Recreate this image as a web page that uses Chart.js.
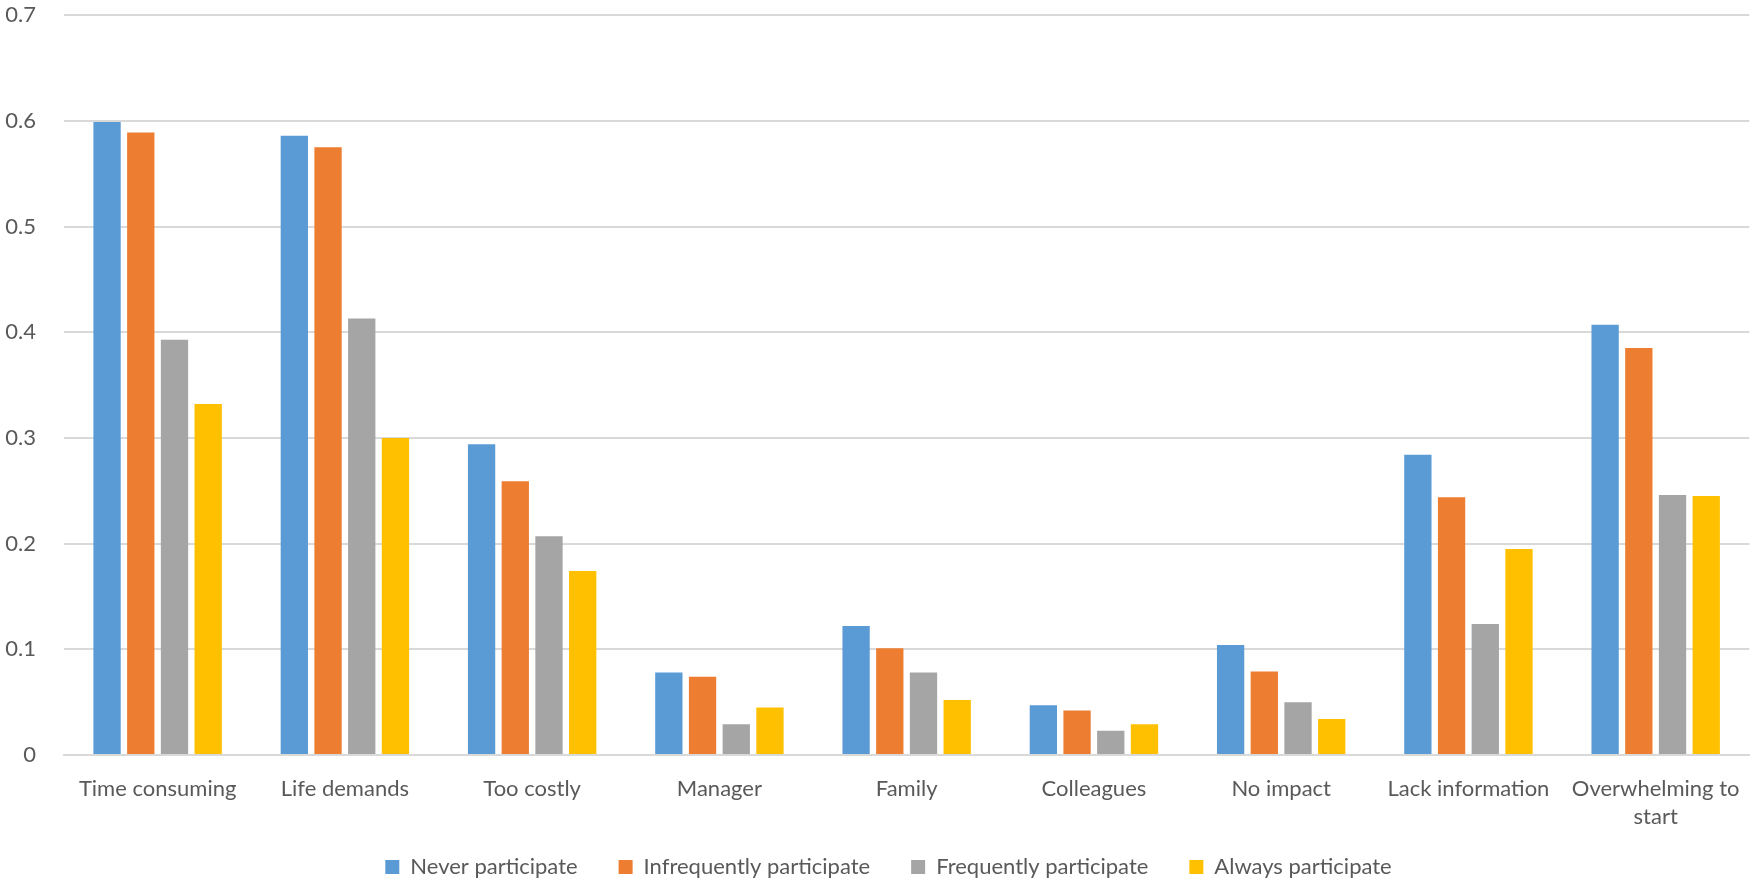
<!DOCTYPE html>
<html>
<head>
<meta charset="utf-8">
<script src="https://cdn.jsdelivr.net/npm/chart.js@4.4.1/dist/chart.umd.min.js"></script>
<style>
  html, body { margin: 0; padding: 0; background: #fff; }
  #wrap { width: 1760px; height: 879px; }
</style>
</head>
<body>
<div id="wrap"><canvas id="barriersChart"></canvas></div>
<script>
const categories = ['Time consuming', 'Life demands', 'Too costly', 'Manager', 'Family',
  'Colleagues', 'No impact', 'Lack information', ['Overwhelming to', 'start']];

const neverParticipate = [0.599, 0.586, 0.294, 0.078, 0.122, 0.047, 0.104, 0.284, 0.407];
const infrequentlyParticipate = [0.589, 0.575, 0.259, 0.074, 0.101, 0.042, 0.079, 0.244, 0.385];
const frequentlyParticipate = [0.393, 0.413, 0.207, 0.029, 0.078, 0.023, 0.050, 0.124, 0.246];
const alwaysParticipate = [0.332, 0.300, 0.174, 0.045, 0.052, 0.029, 0.034, 0.195, 0.245];

const seriesNames = ['Never participate', 'Infrequently participate', 'Frequently participate', 'Always participate'];
const seriesColors = ['#5b9bd5', '#ed7d31', '#a5a5a5', '#ffc000'];

const yTicks = { min: 0, max: 0.7, step: 0.1 };

const textColor = '#595959';
const gridColor = '#d9d9d9';
const fontFamily = 'Lato, "Open Sans", sans-serif';

// nudge the legend row a little to the right of the canvas centre
const legendNudge = {
  id: 'legendNudge',
  afterLayout(chart) {
    chart.legend.left += 13;
    chart.legend.right += 13;
  }
};

document.addEventListener("DOMContentLoaded", function () {
  const ctx = document.getElementById('barriersChart');

  const values = [neverParticipate, infrequentlyParticipate, frequentlyParticipate, alwaysParticipate];

  const data = {
    labels: categories,
    datasets: values.map((v, i) => ({
      label: seriesNames[i],
      data: v,
      backgroundColor: seriesColors[i],
      categoryPercentage: 0.72,
      barPercentage: 0.81
    }))
  };

  const options = {
    responsive: true,
    maintainAspectRatio: false,
    animation: false,
    layout: {
      padding: { top: 0, right: 9, bottom: -9, left: 0 }
    },
    scales: {
      x: {
        grid: { display: false, drawTicks: false },
        border: { display: true, color: gridColor, width: 2 },
        ticks: {
          color: textColor,
          font: { family: fontFamily, size: 22, lineHeight: 1.27 },
          padding: 20,
          maxRotation: 0,
          autoSkip: false
        },
        afterFit: function (scale) { scale.height = 93; }
      },
      y: {
        min: yTicks.min,
        max: yTicks.max,
        // invisible tick marks push the labels away from the plot
        // without adding the label padding above the top gridline
        grid: { color: gridColor, lineWidth: 2, drawTicks: true, tickLength: 26, tickColor: 'rgba(0,0,0,0)' },
        border: { display: false },
        ticks: {
          stepSize: yTicks.step,
          color: textColor,
          font: { family: fontFamily, size: 22 },
          padding: 2
        },
        afterFit: function (scale) { scale.width = 64; }
      }
    },
    plugins: {
      legend: {
        position: 'bottom',
        labels: {
          color: textColor,
          font: { family: fontFamily, size: 22 },
          boxWidth: 14,
          boxHeight: 14,
          padding: 8,
          // wider gaps between entries; labels.padding would also grow the legend height
          generateLabels: function (chart) {
            const items = Chart.defaults.plugins.legend.labels.generateLabels(chart);
            items.forEach((item, i) => {
              if (i < items.length - 1) item.text += '\u2002\u2002\u2002';
            });
            return items;
          }
        }
      },
      tooltip: { enabled: false }
    }
  };

  new Chart(ctx, {
    type: 'bar',
    data: data,
    options: options,
    plugins: [legendNudge]
  });
});
</script>
</body>
</html>
